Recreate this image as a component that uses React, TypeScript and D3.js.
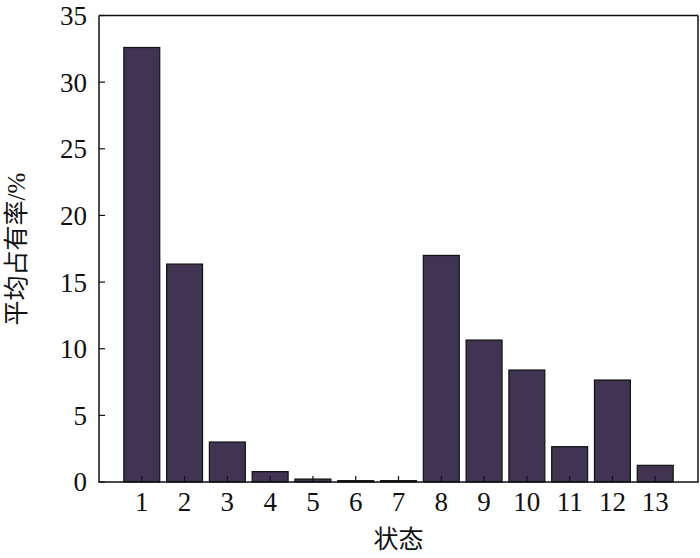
import { useEffect, useRef } from "react";
import * as d3 from "d3";

// 状态编号 and 平均占有率 (%)
const states = [1, 2, 3, 4, 5, 6, 7, 8, 9, 10, 11, 12, 13];
const occupancy = [32.6, 16.35, 3.0, 0.78, 0.22, 0.1, 0.1, 17.0, 10.65, 8.4, 2.65, 7.65, 1.25];
const yTicks = [0, 5, 10, 15, 20, 25, 30, 35];

const W = 700;
const H = 558;
const margin = { top: 15.5, right: 2, bottom: 76, left: 99 };

export default function App() {
  const ref = useRef<SVGSVGElement>(null);

  useEffect(() => {
    const svg = d3.select(ref.current);
    svg.selectAll("*").remove();

    const x = d3.scaleLinear().domain([0, 14]).range([margin.left, W - margin.right]);
    const y = d3.scaleLinear().domain([0, 35]).range([H - margin.bottom, margin.top]);
    const barW = (x(1) - x(0)) * 0.84;
    const font = "'Liberation Serif', 'Times New Roman', 'Noto Sans CJK SC', serif";

    // bars
    svg.append("g")
      .selectAll("rect")
      .data(states)
      .join("rect")
      .attr("x", (d) => x(d) - barW / 2)
      .attr("y", (d, i) => y(occupancy[i]))
      .attr("width", barW)
      .attr("height", (d, i) => y(0) - y(occupancy[i]))
      .attr("fill", "#413352")
      .attr("stroke", "#111")
      .attr("stroke-width", 1.2);

    // frame (left, bottom, right)
    svg.append("path")
      .attr("d", `M${x(0)},${y(35)}V${y(0)}H${x(14)}V${y(35)}`)
      .attr("fill", "none")
      .attr("stroke", "#111")
      .attr("stroke-width", 1.5);
    svg.append("line")
      .attr("x1", x(0)).attr("x2", x(14))
      .attr("y1", y(35)).attr("y2", y(35))
      .attr("stroke", "#111").attr("stroke-width", 1.5);

    // y ticks (inward)
    const yg = svg.append("g");
    yg.selectAll("line")
      .data(yTicks)
      .join("line")
      .attr("x1", x(0)).attr("x2", x(0) + 6)
      .attr("y1", (d) => y(d)).attr("y2", (d) => y(d))
      .attr("stroke", "#111").attr("stroke-width", 1.2);
    yg.selectAll("text")
      .data(yTicks)
      .join("text")
      .attr("x", x(0) - 12)
      .attr("y", (d) => y(d))
      .attr("dy", "0.35em")
      .attr("text-anchor", "end")
      .attr("font-family", font)
      .attr("font-size", 27)
      .attr("fill", "#111")
      .text((d) => d);

    // x ticks (inward)
    const xg = svg.append("g");
    xg.selectAll("line")
      .data(states)
      .join("line")
      .attr("x1", (d) => x(d)).attr("x2", (d) => x(d))
      .attr("y1", y(0)).attr("y2", y(0) - 6)
      .attr("stroke", "#111").attr("stroke-width", 1.2);
    xg.selectAll("text")
      .data(states)
      .join("text")
      .attr("x", (d) => x(d))
      .attr("y", y(0) + 29)
      .attr("text-anchor", "middle")
      .attr("font-family", font)
      .attr("font-size", 27)
      .attr("fill", "#111")
      .text((d) => d);

    // axis titles
    svg.append("text")
      .attr("x", x(7))
      .attr("y", H - 10)
      .attr("text-anchor", "middle")
      .attr("font-family", font)
      .attr("font-size", 25)
      .attr("fill", "#111")
      .text("状态");

    svg.append("text")
      .attr("transform", `translate(${16},${249}) rotate(-90)`)
      .attr("dy", "0.35em")
      .attr("text-anchor", "middle")
      .attr("font-family", font)
      .attr("font-size", 25)
      .attr("fill", "#111")
      .text("平均占有率/%");
  }, []);

  return (
    <svg
      ref={ref}
      width={W}
      height={H}
      style={{ position: "absolute", left: 0, top: 0, background: "#fff" }}
    />
  );
}
